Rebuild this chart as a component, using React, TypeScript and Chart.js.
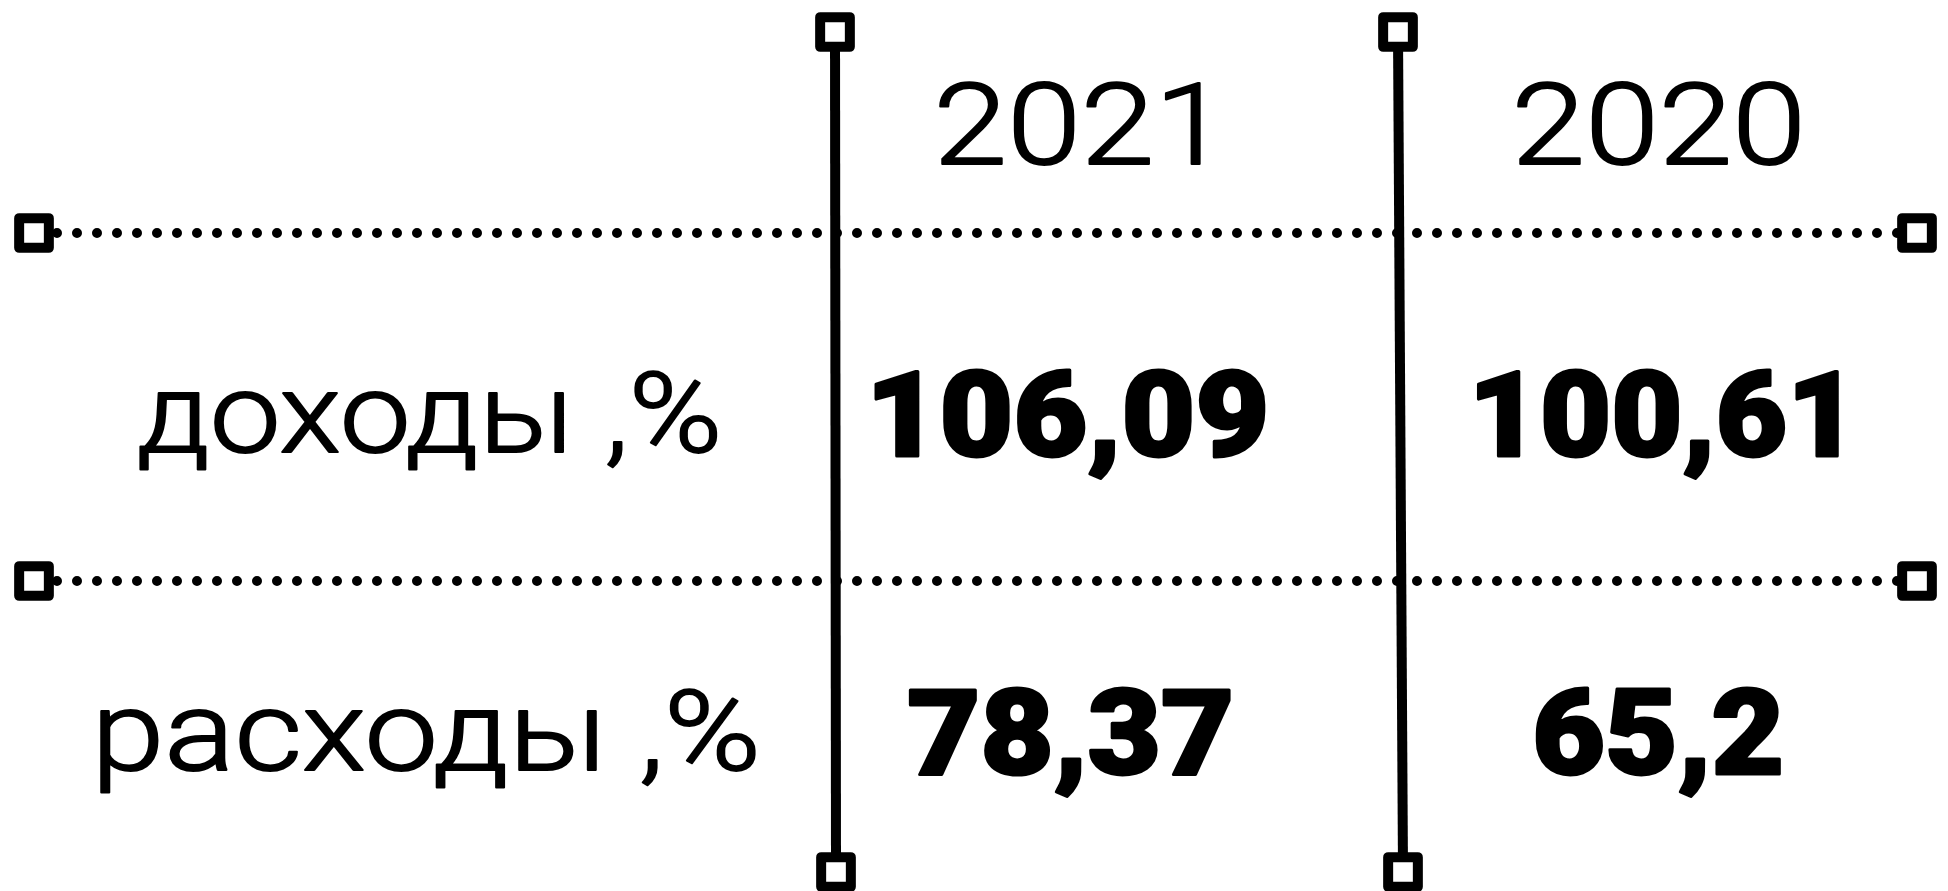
import React, { useEffect, useRef } from "react";
import { Chart, registerables } from "chart.js";

Chart.register(...registerables);

// ---------- data ----------
const years: string[] = ["2021", "2020"];
const rowLabels: string[] = ["доходы ,%", "расходы ,%"];
const values2021: number[] = [106.09, 78.37];
const values2020: number[] = [100.61, 65.2];

// ---------- layout (in scale units of the table grid) ----------
const GRID_W = 1948;
const GRID_H = 891;
const labelColumnX = 428;
const yearColumnX: number[] = [1070, 1658];
const headerBaseline = 165;
const rowBaselines: number[] = [457, 775];
const labelBaselines: number[] = [453, 771];
const dividerTopX: number[] = [835, 1398];
const dividerBottomX: number[] = [836, 1403];
const dividerTopY = 32;
const dividerBottomY = 872;
const rowDividerY: number[] = [233, 581];
const rowDividerStartX = 34;
const rowDividerEndX = 1917;

// ink sizes [width, height] of each text
const yearInk: number[][] = [[263, 84], [283, 84]];
const labelInk: number[][] = [[579, 83], [656, 83]];
const valueInk2021: number[][] = [[392, 88], [322, 88]];
const valueInk2020: number[][] = [[363, 88], [246, 88]];

const THIN = 'Roboto, "Liberation Sans", sans-serif';
const HEAVY = 'Roboto, "Liberation Sans", sans-serif';

const fmt = (v: number) => String(v).replace(".", ",");

function drawFitted(
  ctx: CanvasRenderingContext2D,
  text: string,
  weight: number,
  family: string,
  cx: number,
  baseline: number,
  inkW: number,
  inkH: number,
  extraStroke: number
) {
  ctx.save();
  ctx.font = `${weight} 100px ${family}`;
  let m = ctx.measureText(text);
  const size = (100 * (inkH - extraStroke)) / m.actualBoundingBoxAscent;
  ctx.font = `${weight} ${size}px ${family}`;
  m = ctx.measureText(text);
  const w = m.actualBoundingBoxLeft + m.actualBoundingBoxRight;
  const sx = (inkW - extraStroke) / w;
  ctx.translate(cx, baseline - extraStroke / 2);
  ctx.scale(sx, 1);
  ctx.textAlign = "left";
  ctx.textBaseline = "alphabetic";
  ctx.fillStyle = "#000";
  const x0 = -(m.actualBoundingBoxRight - m.actualBoundingBoxLeft) / 2;
  ctx.fillText(text, x0, 0);
  if (extraStroke > 0) {
    ctx.strokeStyle = "#000";
    ctx.lineWidth = extraStroke;
    ctx.lineJoin = "round";
    ctx.strokeText(text, x0, 0);
  }
  ctx.restore();
}

const tablePlugin = {
  id: "tableText",
  beforeDatasetsDraw(chart: any) {
    chart.ctx.save();
    chart.ctx.lineJoin = "round";
  },
  afterDatasetsDraw(chart: any) {
    chart.ctx.restore();
    const ctx = chart.ctx as CanvasRenderingContext2D;
    const xs = chart.scales.x;
    const ys = chart.scales.y;
    years.forEach((y, i) => {
      drawFitted(ctx, y, 300, THIN, xs.getPixelForValue(yearColumnX[i]), ys.getPixelForValue(headerBaseline), yearInk[i][0], yearInk[i][1], 2);
    });
    rowLabels.forEach((l, i) => {
      drawFitted(ctx, l, 300, THIN, xs.getPixelForValue(labelColumnX), ys.getPixelForValue(labelBaselines[i]), labelInk[i][0], labelInk[i][1], 2);
    });
    values2021.forEach((v, i) => {
      drawFitted(ctx, fmt(v), 900, HEAVY, xs.getPixelForValue(yearColumnX[0]), ys.getPixelForValue(rowBaselines[i]), valueInk2021[i][0], valueInk2021[i][1], 3);
    });
    values2020.forEach((v, i) => {
      drawFitted(ctx, fmt(v), 900, HEAVY, xs.getPixelForValue(yearColumnX[1]), ys.getPixelForValue(rowBaselines[i]), valueInk2020[i][0], valueInk2020[i][1], 3);
    });
  },
};

export default function App() {
  const ref = useRef<HTMLCanvasElement | null>(null);
  useEffect(() => {
    document.body.style.margin = "0";
    document.body.style.overflow = "hidden";
    const canvas = ref.current!;
    const squareStyle = {
      pointStyle: "rect",
      pointRadius: 21,
      pointHoverRadius: 21,
      pointBorderWidth: 10,
      pointBorderColor: "#000",
      pointBackgroundColor: "#fff",
    };
    const verticals = dividerTopX.map((tx, i) => ({
      data: [
        { x: tx, y: dividerTopY },
        { x: dividerBottomX[i], y: dividerBottomY },
      ],
      showLine: true,
      borderColor: "#000",
      borderWidth: 10,
      clip: false,
      ...squareStyle,
    }));
    const horizontals = rowDividerY.map((y) => ({
      data: [
        { x: rowDividerStartX, y },
        { x: rowDividerEndX, y },
      ],
      showLine: true,
      borderColor: "#000",
      borderWidth: 10,
      borderDash: [0, 20],
      borderDashOffset: 17,
      borderCapStyle: "round",
      clip: false,
      ...squareStyle,
    }));
    const chart = new Chart(canvas, {
      type: "scatter",
      data: { datasets: [...verticals, ...horizontals] as any },
      options: {
        animation: false,
        responsive: false,
        devicePixelRatio: 1,
        events: [],
        layout: { padding: 0, autoPadding: false },
        plugins: { legend: { display: false }, tooltip: { enabled: false } },
        scales: {
          x: { type: "linear", min: 0, max: GRID_W, display: false },
          y: { type: "linear", min: 0, max: GRID_H, reverse: true, display: false },
        },
      },
      plugins: [tablePlugin],
    });
    return () => chart.destroy();
  }, []);
  return (
    <div style={{ position: "fixed", left: 0, top: 0, width: GRID_W, height: GRID_H, background: "#fff" }}>
      <canvas ref={ref} width={GRID_W} height={GRID_H} style={{ display: "block" }} />
    </div>
  );
}
